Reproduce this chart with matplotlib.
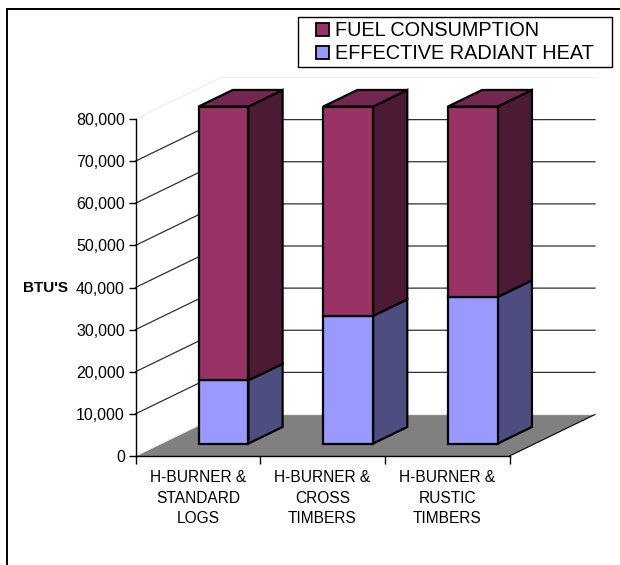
import matplotlib
matplotlib.use("Agg")
import matplotlib.pyplot as plt
from matplotlib.patches import Polygon, Rectangle

plt.rcParams['font.family'] = ['Liberation Sans', 'DejaVu Sans']

categories = ["H-BURNER &\nSTANDARD\nLOGS", "H-BURNER &\nCROSS\nTIMBERS", "H-BURNER &\nRUSTIC\nTIMBERS"]
radiant_heat = [15000, 30300, 34800]
fuel_consumption = [65000, 49700, 45200]
value_ticks = [0, 10000, 20000, 30000, 40000, 50000, 60000, 70000, 80000]

W, H = 620, 565
fig = plt.figure(figsize=(W / 100, H / 100), dpi=100, facecolor='white')

def px_rect(x0, ytop, x1, ybot):
    return [x0 / W, 1 - ybot / H, (x1 - x0) / W, (ybot - ytop) / H]

# frame: only the top and left edges fall inside the picture
fig.add_artist(plt.Line2D([6.5 / W, 6.5 / W, 1.02], [-0.02, 1 - 9 / H, 1 - 9 / H], transform=fig.transFigure,
                          color='black', lw=1.4, solid_joinstyle='miter'))

CAT_PX = 374 / 3
VAL_PX = 337 / 80000
DX_PX, DY_PX = 85.5, 41.5
DX = DX_PX / CAT_PX      # depth vector, category units
DY = DY_PX / VAL_PX      # depth vector, value units

ax = fig.add_axes(px_rect(135.5, 456 - (80000 * VAL_PX + DY_PX), 135.5 + 3 * CAT_PX + DX_PX, 456))
ax.set_xlim(0, 3 + DX)
ax.set_ylim(0, 80000 + DY)
ax.patch.set_visible(False)
for s in ['top', 'right']:
    ax.spines[s].set_visible(False)

def proj(x, v, d):
    return (x + d * DX, v + d * DY)

def face(points, fc, ec='black', lw=1.6, z=2):
    ax.add_patch(Polygon([proj(*p) for p in points], closed=True, fc=fc, ec=ec, lw=lw, zorder=z,
                         clip_on=False, joinstyle='miter'))

# floor
face([(0, 0, 0), (3, 0, 0), (3, 0, 1), (0, 0, 1)], '#808080', ec='none', lw=0, z=1)

# wall grid lines
for v in value_ticks:
    c = '#eeeeee' if v in (0, 80000) else '#303030'
    ax.plot(*zip(proj(0, v, 0), proj(0, v, 1), proj(3, v, 1)), color=c, lw=0.9, zorder=1.5, clip_on=False)
# right edge of the floor
ax.plot(*zip(proj(3, 0, 0), proj(3, 0, 1)), color='black', lw=0.8, zorder=1.6, clip_on=False)

# bars
GAP = 0.3
for i, (a, b) in enumerate(zip(radiant_heat, fuel_consumption)):
    x0, x1, d0, d1 = i + GAP, i + 1 - GAP, GAP, 1 - GAP
    for lo, hi, front, side in [(0, a, '#9999ff', '#4d4d80'), (a, a + b, '#993366', '#4d1a33')]:
        face([(x1, lo, d0), (x1, lo, d1), (x1, hi, d1), (x1, hi, d0)], side, z=3)
        face([(x0, lo, d0), (x1, lo, d0), (x1, hi, d0), (x0, hi, d0)], front, z=4)
    top = a + b
    face([(x0, top, d0), (x1, top, d0), (x1, top, d1), (x0, top, d1)], '#732650', z=3)

# axes
ax.spines['left'].set_bounds(0, 80000)
ax.spines['left'].set_linewidth(1.0)
ax.spines['bottom'].set_linewidth(1.0)
ax.spines['bottom'].set_bounds(0, 3)
ax.set_yticks(value_ticks)
ax.set_yticklabels([f"{v:,}" for v in value_ticks], fontsize=11.5)
ax.tick_params(axis='y', length=5, width=1.0, pad=2.6)
ax.set_xticks([0, 1, 2, 3])
ax.set_xticklabels([])
ax.tick_params(axis='x', which='major', length=5.8, width=1.0)
ax.set_xticks([0.5, 1.5, 2.5], minor=True)
ax.set_xticklabels(categories, minor=True, fontsize=11.2, linespacing=1.46)
ax.tick_params(axis='x', which='minor', length=0, pad=10.2)

fig.text(45.5 / W, 1 - 288 / H, "BTU'S", fontsize=11, fontweight='bold', ha='center', va='center')

# legend
fig.add_artist(Rectangle((297.5 / W, 1 - 67 / H), 314 / W, 49.5 / H, transform=fig.transFigure,
                         fc='white', ec='black', lw=1.0, zorder=5))
handles = [Rectangle((0, 0), 1, 1, fc='#993366', ec='black', lw=1.3),
           Rectangle((0, 0), 1, 1, fc='#9999ff', ec='black', lw=1.3)]
leg = fig.legend(handles, ["FUEL CONSUMPTION", "EFFECTIVE RADIANT HEAT"], loc='upper left',
                 bbox_to_anchor=(316 / W, 1 - 21.5 / H), bbox_transform=fig.transFigure,
                 fontsize=14.3, frameon=False, borderpad=0, handlelength=0.65, handleheight=0.65,
                 handletextpad=0.3, labelspacing=0.2, borderaxespad=0)
leg.set_zorder(6)

fig.savefig('out.png', dpi=100)
